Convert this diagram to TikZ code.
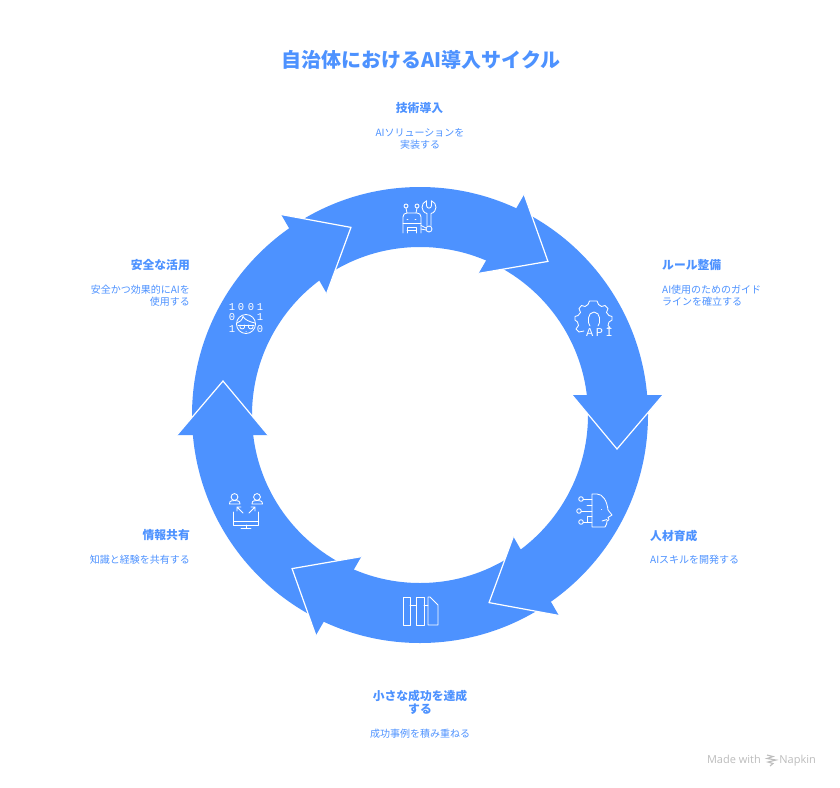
\documentclass[tikz,border=0pt]{standalone}
\usepackage{fontspec}
\setmainfont{Noto Sans CJK JP}
\newfontfamily\digitfont{Liberation Mono}
\newfontfamily\brandfont{Open Sans}
\definecolor{ringblue}{HTML}{4D92FF}
\definecolor{brandgray}{HTML}{BDBDBD}
\tikzset{
  head/.style={font=\fontsize{11.8}{14}\selectfont\bfseries,text=ringblue,inner sep=0pt,align=center},
  desc/.style={font=\fontsize{10}{12}\selectfont,text=ringblue,inner sep=0pt},
  ttl/.style={font=\fontsize{20}{25}\selectfont\bfseries,text=ringblue,inner sep=0pt},
  ico/.style={draw=white,line width=0.85pt,line cap=round,line join=round},
  dig/.style={font=\fontsize{10.5}{11}\selectfont\digitfont,text=white,inner sep=0pt},
  arrowhead/.pic={
    \fill[ringblue] (152,-20) -- (197,34) -- (243,-20) -- cycle;
    \draw[white,line width=1.2pt,line join=miter] (152,-20) -- (197,34) -- (243,-20);
  }
}
\begin{document}
\begin{tikzpicture}[x=1pt,y=-1pt]
\useasboundingbox (0,0) rectangle (840,787);
\fill[white] (0,0) rectangle (840,787);
% ring
\fill[ringblue,even odd rule] (420,415) circle[radius=228pt] (420,415) circle[radius=168pt];
% arrow heads
\foreach \r in {60,0,-60,-120,180,120}{
  \pic[shift={(420,415)},rotate=\r] {arrowhead};
}
% title
\node[ttl] (title) at (421,60) {自治体におけるAI導入サイクル};
% labels
\node[head] (h1) at (419.5,108.5) {技術導入};
\node[desc] (d1a) at (420,132.5) {AIソリューションを};
\node[desc] (d1b) at (420,144.5) {実装する};
\node[head,anchor=west] (h2) at (662,265.5) {ルール整備};
\node[desc,anchor=west] (d2a) at (662,289.5) {AI使用のためのガイド};
\node[desc,anchor=west] (d2b) at (662,301.5) {ラインを確立する};
\node[head,anchor=west] (h3) at (650,535.5) {人材育成};
\node[desc,anchor=west] (d3) at (650,559.5) {AIスキルを開発する};
\node[head] (h4a) at (420,695.5) {小さな成功を達成};
\node[head] (h4b) at (420,709.5) {する};
\node[desc] (d4) at (420,733.5) {成功事例を積み重ねる};
\node[head,anchor=east] (h5) at (190,535.5) {情報共有};
\node[desc,anchor=east] (d5) at (190,559.5) {知識と経験を共有する};
\node[head,anchor=east] (h6) at (190,265.5) {安全な活用};
\node[desc,anchor=east] (d6a) at (190,289.5) {安全かつ効果的にAIを};
\node[desc,anchor=east] (d6b) at (190,301.5) {使用する};
% robot and wrench icon
\draw[ico] (403,233) -- (403,217) .. controls (403,214.5) and (404.5,213) .. (407,213) -- (417,213) .. controls (419.5,213) and (421,214.5) .. (421,217) -- (421,233);
\draw[ico] (403,223) -- (421,223);
\draw[ico] (407,233) -- (407,227) -- (416,227) -- (416,233) (407,230) -- (416,230);
\draw[ico] (407,219) -- (408,219) (415,219) -- (416,219);
\draw[ico] (406,206) circle[radius=2] (417,206) circle[radius=2];
\draw[ico] (406,208) -- (407,213) (417,208) -- (416,213);
\draw[ico] (426.5,201) -- (426.5,205.5) .. controls (426.5,209) and (431.5,209) .. (431.5,205.5) -- (431.5,201);
\draw[ico] (426.5,200.8) .. controls (420.5,203) and (420.5,212) .. (427,213.5) -- (427,225.5);
\draw[ico] (431.5,200.8) .. controls (437.5,203) and (437.5,212) .. (431,213.5) -- (431,225.5);
\draw[ico] (429,229) circle[radius=3];
\draw[ico] (421,225.5) -- (426,228) (421,229) -- (426,230);
% gear and API icon
\draw[ico] (590,326) .. controls (587,323) and (587.5,312) .. (594,312) .. controls (600.5,312) and (601,323) .. (598,326);
\draw[ico] plot[smooth,tension=0] coordinates {
 (584,331) (579,332) (576,329) (578.5,325.5) (577.5,322) (575,320) (575,316.5) (578,315.5) (580.5,312.5)
 (579,308.5) (581.5,305.5) (585,306.5) (588,304.5) (589.5,301) (597,301) (598.5,304.5) (601.5,306.5) (605,305.5) (608,308.5)
 (606.5,312.5) (609,315.5) (612,316.5) (612,320) (609,322) (608,325.5) (610,327.5) (607.5,328)
};
\node[inner sep=0pt,font=\fontsize{12}{13}\selectfont\digitfont,text=white] (api) at (599.5,332.5) {A\hspace{2.5pt}P\hspace{2.5pt}I};
% head with circuits icon
\draw[ico] (592,494) -- (592,527) -- (605,527) .. controls (606.5,525) and (607,523) .. (607,521) .. controls (610,520) and (609,518) .. (608,517.5) -- (612,515) -- (608,510) .. controls (607,501) and (603,494) .. (597,494) -- cycle;
\draw[ico] (601.5,509) -- (601.6,509);
\draw[ico] (602,521) -- (607,519.5);
\draw[ico] (581,499) circle[radius=2.3] (579,511) circle[radius=2.3] (581,522) circle[radius=2.3];
\draw[ico] (583.3,499) -- (592,499) (587,505) -- (592,505) (581.3,511) -- (592,511);
\draw[ico] (583.3,522) -- (587,522) -- (587,516) -- (592,516) (588,522.5) -- (592,522.5);
% columns icon
\draw[ico] (403,597) rectangle (410,625);
\draw[ico] (416,597) rectangle (424,625);
\draw[ico] (428,597) -- (430,597) -- (438,605) -- (438,625) -- (428,625) -- cycle;
\draw[ico] (410,605) -- (416,605) (424,605) -- (428,605);
% users and monitor icon
\draw[ico] (234.5,497) circle[radius=3.4] (257,497) circle[radius=3.4];
\draw[ico] (229.5,504) .. controls (229.5,500) and (232,501) .. (234.5,500.5) .. controls (237,501) and (240,500) .. (240,504) -- cycle;
\draw[ico] (252,504) .. controls (252,500) and (254.5,501) .. (257,500.5) .. controls (259.5,501) and (262.5,500) .. (262.5,504) -- cycle;
\draw[ico] (233.5,512) -- (233.5,525) -- (258,525) -- (258,512) (233.5,521) -- (258,521);
\draw[ico] (246,525) -- (246,528) (241,528) -- (251,528);
\draw[ico] (243,513) -- (237,507) (237,511) -- (237,507) -- (241,507);
\draw[ico] (249,513) -- (255,507) (255,511) -- (255,507) -- (251,507);
% binary face icon
\node[dig] (b1) at (232,307) {1};
\node[dig] (b2) at (241,307) {0};
\node[dig] (b3) at (251,307) {0};
\node[dig] (b4) at (260,307) {1};
\node[dig] (b5) at (232,317) {0};
\node[dig] (b6) at (260,317) {1};
\node[dig] (b7) at (232,329) {1};
\node[dig] (b8) at (260,329) {0};
\draw[ico] (246,324) circle[radius=9.5];
\draw[ico] (237,323) .. controls (240,322) and (242,320) .. (243,316.5) .. controls (245,320) and (250,322) .. (255,323);
\draw[ico] (238,325) -- (254,325);
\draw[ico] (240,325) -- (240,327) .. controls (240,329.5) and (244.5,329.5) .. (244.5,327) -- (244.5,325);
\draw[ico] (248.5,325) -- (248.5,327) .. controls (248.5,329.5) and (253,329.5) .. (253,327) -- (253,325);
\draw[ico] (246,331) -- (246.1,331);
% brand
\node[inner sep=0pt,anchor=base east,font=\fontsize{11}{13}\selectfont\brandfont,text=brandgray] (made) at (761,763) {Made with};
\node[inner sep=0pt,anchor=base east,font=\fontsize{11}{13}\selectfont\brandfont,text=brandgray] (nap) at (816,763) {Napkin};
\draw[brandgray,line width=1.1pt] (767,755) -- (773,756.5) -- (767,758.5) -- (776,760) -- (768,762) -- (773,763.5) -- (770,766);
\end{tikzpicture}
\end{document}
